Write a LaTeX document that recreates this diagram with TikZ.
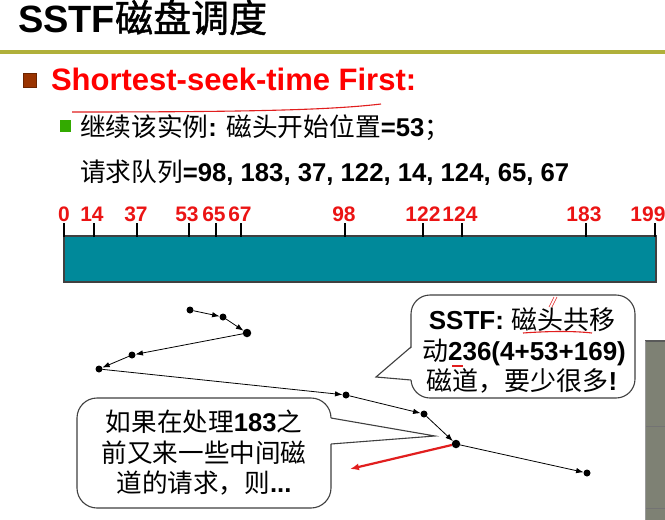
\documentclass[tikz,border=0pt]{standalone}
\usepackage{fontspec}
\setmainfont{Liberation Sans}
\newfontfamily\cjk{Noto Sans CJK SC}
\newfontfamily\cjkheavy[FakeBold=1.2]{Noto Sans CJK SC}
\newcommand\zh[1]{{\cjk\mdseries #1}}
\usetikzlibrary{arrows.meta}

\definecolor{olivebar}{RGB}{176,176,58}
\definecolor{bulletbrown}{RGB}{153,51,0}
\definecolor{bulletgreen}{RGB}{51,170,0}
\definecolor{diskteal}{RGB}{0,137,154}
\definecolor{axisred}{RGB}{235,20,20}
\definecolor{headred}{RGB}{255,0,0}
\definecolor{penred}{RGB}{225,30,30}
\definecolor{wingray}{RGB}{126,129,116}

\begin{document}
\begin{tikzpicture}[x=1pt,y=-1pt,
  every node/.style={inner sep=0pt, outer sep=0pt},
  tickmark/.style={line width=1.5pt, black},
  dot/.style={circle, fill=black, minimum size=7pt},
  seek/.style={line width=0.8pt, -{Latex[length=7.5pt,width=5.5pt]}},
  bubble/.style={draw=black!75, line width=1.1pt, fill=white},
  axislabel/.style={anchor=base, text=axisred, font=\fontsize{21}{21}\selectfont\bfseries},
  bodytext/.style={anchor=base west, font=\fontsize{25.7}{25.7}\selectfont\bfseries},
  calltext/.style={anchor=base, font=\fontsize{26}{26}\selectfont\bfseries},
  calltextb/.style={anchor=base, font=\fontsize{25.6}{25.6}\selectfont\bfseries},
]
\useasboundingbox (0,0) rectangle (665,520);
\fill[white] (0,0) rectangle (665,520);

% title and rule
\node[anchor=base west, font=\fontsize{38}{38}\selectfont\bfseries] (title) at (18,32) {SSTF{\cjkheavy\mdseries 磁盘调度}};
\draw[olivebar, line width=4pt] (0,52) -- (665,52);

% bullets and text
\node[fill=bulletbrown, draw=bulletbrown!70!black, line width=0.6pt, minimum width=13pt, minimum height=14pt, anchor=north west] (b1) at (23,73) {};
\node[anchor=base west, text=headred, font=\fontsize{31}{31}\selectfont\bfseries] (head) at (51,90) {Shortest-seek-time First:};
\draw[penred, line width=1.1pt] (72,112) .. controls (250,112) and (330,110) .. (381,104);

\node[fill=bulletgreen, minimum width=11pt, minimum height=12pt, anchor=north west] (b2) at (60,120) {};
\node[bodytext] (line1) at (80,136) {\zh{继续该实例}: \zh{磁头开始位置}=53\zh{；}};
\node[bodytext] (line2) at (80,181) {\zh{请求队列}=98, 183, 37, 122, 14, 124, 65, 67};

% disk track bar with cylinder ticks
\node[draw=black!75, line width=1.2pt, fill=diskteal, minimum width=592pt, minimum height=46pt, anchor=north west] (disk) at (64,236) {};
\foreach \v/\tx/\lx in {0/64/64, 14/94/92, 37/137/136, 53/189/187, 65/216/214, 67/241/240, 98/345/344, 122/423/423, 124/462/460, 183/586/584, 199/655/648}{
  \draw[tickmark] (\tx,223) -- (\tx,236.5);
  \node[axislabel] (lab\v) at (\lx,221) {\v};
}

% right-hand callout
\draw[bubble, rounded corners=19pt] (411,295) rectangle (635,398);
\fill[white] (412.5,347) -- (376,377) -- (412.5,380) -- cycle;
\draw[black!75, line width=1.1pt] (411,347) -- (376,377) -- (411,380);
\node[calltext] (c1a) at (522,329) {SSTF: \zh{磁头共移}};
\node[calltext] (c1b) at (524,360) {\zh{动}236(4+53+169)};
\node[calltext] (c1c) at (522,390) {\zh{磁道，要少很多}!};
\draw[penred, line width=1.1pt] (523,333) .. controls (550,331) and (575,331) .. (592,333);
\draw[penred, line width=0.6pt] (549,307) -- (554,297) (552,307) -- (557,297);
\draw[penred, line width=1.1pt] (452,366) -- (463,366);

% left callout
\draw[bubble, rounded corners=20pt] (77,398) rectangle (331,508);
\fill[white] (329.5,418) -- (435,436) -- (329.5,444) -- cycle;
\draw[black!75, line width=1.1pt] (331,418) -- (435,436) -- (331,444);
\node[calltextb] (c2a) at (204,431) {\zh{如果在处理}183\zh{之}};
\node[calltextb] (c2b) at (204,462) {\zh{前又来一些中间磁}};
\node[calltextb] (c2c) at (204,492) {\zh{道的请求，则}...};

% seek path
\node[dot] (p53) at (190,310) {};
\node[dot] (p65) at (223,317) {};
\node[dot, minimum size=8.5pt] (p67) at (247,333) {};
\node[dot] (p37) at (132,355) {};
\node[dot] (p14) at (99,369) {};
\node[dot] (p98) at (346,395) {};
\node[dot] (p122) at (424,414) {};
\node[dot, minimum size=8.5pt] (p124) at (456,444) {};
\node[dot] (p183) at (587,473) {};
\draw[seek] (p53) -- (p65);
\draw[seek] (p65) -- (p67);
\draw[seek] (p67) -- (p37);
\draw[seek] (p37) -- (p14);
\draw[seek] (p14) -- (p98);
\draw[seek] (p98) -- (p122);
\draw[seek] (p122) -- (p124);
\draw[seek] (p124) -- (p183);
\coordinate (detour) at (350,469);
\draw[penred, line width=2.2pt, -{Latex[length=9pt,width=7pt]}] (p124) -- (detour);

% edge of a neighbouring window
\fill[wingray] (645,341) rectangle (665,520);
\draw[black!65, line width=1.5pt] (645,341) -- (665,341);
\draw[black!55, line width=1pt] (645,426) -- (665,426);
\draw[black!55, line width=1pt] (645,508) -- (665,508);
\draw[black!40, line width=1pt] (645.5,341) -- (645.5,520);
\end{tikzpicture}
\end{document}
